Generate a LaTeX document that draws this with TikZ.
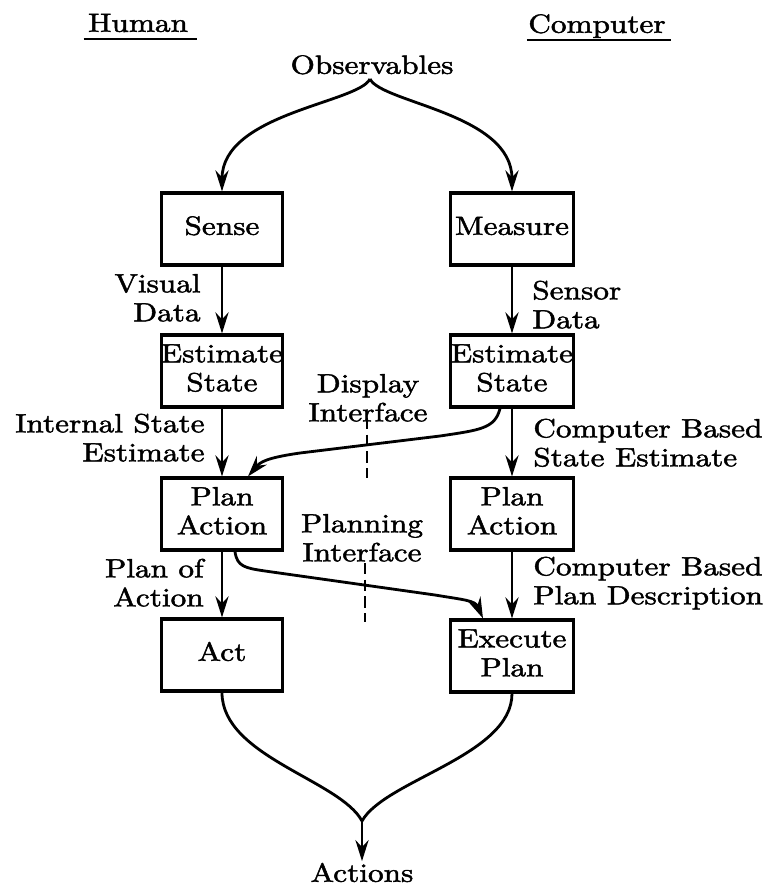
\documentclass[tikz,border=0pt]{standalone}
\usepackage{graphicx}
\usetikzlibrary{arrows.meta,calc}
\font\hvfont="[lmroman10-regular]:mapping=tex-text;embolden=1.6" at 10pt
\newcommand\mytxt[2][c]{\scalebox{1.78}[1.5]{\fontsize{10}{11}\selectfont\hvfont\begin{tabular}{@{}#1@{}}#2\end{tabular}}}
\begin{document}
\begin{tikzpicture}[x=0.02cm,y=-0.02cm,
  box/.style={draw, line width=1.8pt, minimum width=2.42cm, minimum height=1.44cm, inner sep=0pt},
  rbox/.style={box, minimum width=2.46cm},
  lbl/.style={inner sep=0pt},
  conn/.style={line width=1.6pt, line join=round, -{Stealth[length=12pt,width=7.5pt,inset=4pt]}},
  plainline/.style={line width=1.6pt, line join=round},
  dashline/.style={line width=1.6pt, dash pattern=on 6.5pt off 3pt},
  uline/.style={line width=1.3pt}]
\useasboundingbox (0,0) rectangle (769,890);
\fill[white] (0,0) rectangle (769,890);

% headings
\node[lbl] (human) at (138,26) {\mytxt{Human}};
\node[lbl] (computer) at (597,27) {\mytxt{Computer}};
\draw[uline] ([xshift=-0.08cm,yshift=0.03cm]human.south west) -- ([xshift=0.18cm,yshift=0.03cm]human.south east);
\draw[uline] ([xshift=-0.02cm,yshift=0.03cm]computer.south west) -- ([xshift=0.1cm,yshift=0.03cm]computer.south east);

% top / bottom
\node[lbl] (obs) at (372,68) {\mytxt{Observables}};
\node[lbl] (actions) at (362,876) {\mytxt{Actions}};
\coordinate (fork) at (370,79);
\coordinate (merge) at (362,821);

% boxes
\node[box] (sense) at (222,229) {\makebox[0pt]{\mytxt{Sense}}};
\node[box] (est1) at (222,371) {\makebox[0pt]{\mytxt{Estimate\\State}}};
\node[box] (plan1) at (222,514) {\makebox[0pt]{\mytxt{Plan\\Action}}};
\node[box] (act) at (222,655) {\makebox[0pt]{\mytxt{Act}}};
\node[rbox] (measure) at (512,229) {\makebox[0pt]{\mytxt{Measure}}};
\node[rbox] (est2) at (512,371) {\makebox[0pt]{\mytxt{Estimate\\State}}};
\node[rbox] (plan2) at (512,514) {\makebox[0pt]{\mytxt{Plan\\Action}}};
\node[rbox] (exec) at (512,656) {\makebox[0pt]{\mytxt{Execute\\Plan}}};

% labels
\node[lbl, anchor=east] (visual) at (201,301) {\mytxt[r]{Visual\\Data}};
\node[lbl, anchor=east] (internal) at (205,441) {\mytxt[r]{Internal State\\Estimate}};
\node[lbl, anchor=east] (planof) at (204,586) {\mytxt[r]{Plan of\\Action}};
\node[lbl, anchor=west] (sensor) at (532,308) {\mytxt[l]{Sensor\\Data}};
\node[lbl, anchor=west] (cbse) at (533,446) {\mytxt[l]{Computer Based\\State Estimate}};
\node[lbl, anchor=west] (cbpd) at (533,584) {\mytxt[l]{Computer Based\\Plan Description}};
\node[lbl] (display) at (368,401) {\mytxt{Display\\Interface}};
\node[lbl] (planning) at (362,541) {\mytxt{Planning\\Interface}};

% dashed interface lines
\coordinate (d1a) at (367,418);
\coordinate (d1b) at (367,478);
\coordinate (d2a) at (365,563);
\coordinate (d2b) at (365,622);
\draw[dashline] (d1a) -- (d1b);
\draw[dashline] (d2a) -- (d2b);

% fork from observables
\draw[conn] (fork) .. controls +(-12,24) and +(0,-78) .. (sense.north);
\draw[conn] (fork) .. controls +(12,24) and +(0,-78) .. (measure.north);

% vertical flows
\draw[conn] (sense) -- (est1);
\draw[conn] (est1) -- (plan1);
\draw[conn] (plan1) -- (act);
\draw[conn] (measure) -- (est2);
\draw[conn] (est2) -- (plan2);
\draw[conn] (plan2) -- (exec);

% display interface curve
\coordinate (w1) at (440,436);
\coordinate (w2) at (300,453);
\draw[conn] ([xshift=-0.24cm]est2.south) .. controls +(-5,20) and +(40,-6) .. (w1) -- (w2) .. controls +(-35,5) and +(12,-14) .. ([xshift=0.52cm]plan1.north);

% planning interface curve
\coordinate (w3) at (265,571);
\coordinate (w4) at (435,595);
\draw[conn] ([xshift=0.26cm]plan1.south) .. controls +(2,15) and +(-20,-3) .. (w3) -- (w4) .. controls +(30,5) and +(-8,-18) .. ([xshift=-0.58cm]exec.north);

% merge to actions
\draw[plainline] (act.south) .. controls +(0,64) and +(-22,-41) .. (merge);
\draw[plainline] (exec.south) .. controls +(0,62) and +(23,-41) .. (merge);
\draw[conn] (merge) -- (actions.north);
\end{tikzpicture}
\end{document}
